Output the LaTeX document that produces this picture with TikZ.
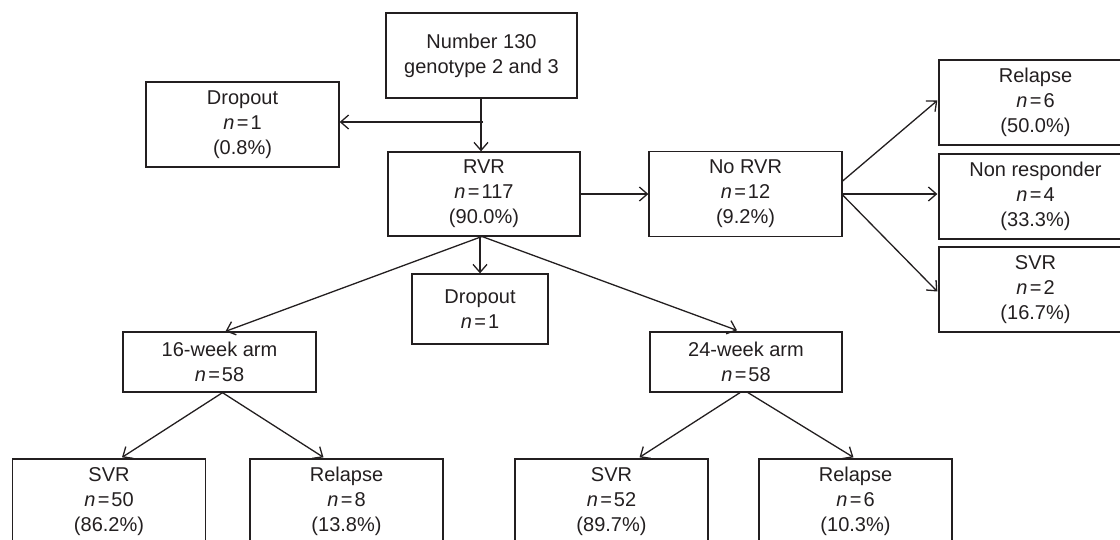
\documentclass[tikz,border=0pt]{standalone}
\usepackage{fontspec}
\setmainfont{Liberation Sans}
\usetikzlibrary{arrows.meta,calc}
\definecolor{ink}{HTML}{231F20}
\newcommand{\nn}[1]{\textit{n}\hspace{2.4pt}=\hspace{2pt}#1}
\begin{document}
\begin{tikzpicture}[x=1pt,y=-1pt,
  box/.style={draw=ink, line width=1.3pt, text=ink, inner sep=0pt, align=center,
    font=\fontsize{20}{25}\selectfont},
  bigbox/.style={box, minimum width=193pt, minimum height=85pt},
  arr/.style={draw=ink, line width=1.3pt, -{Straight Barb[length=8pt,width=14pt,line width=1.3pt]}}]
\useasboundingbox (0,0) rectangle (1120,539);
\clip (0,0) rectangle (1120,539);
% nodes
\node[box, minimum width=191pt, minimum height=85pt] (num) at (481.5,55.5) {Number 130\\genotype 2 and 3};
\node[bigbox] (drop1) at (242.5,124.5) {Dropout\\\nn{1}\\(0.8\%)};
\node[box, minimum width=192pt, minimum height=84pt] (rvr) at (484,194) {RVR\\\nn{117}\\(90.0\%)};
\node[bigbox] (norvr) at (745.5,194) {No RVR\\\nn{12}\\(9.2\%)};
\node[bigbox] (rel1) at (1035.5,102.5) {Relapse\\\nn{6}\\(50.0\%)};
\node[bigbox] (nonresp) at (1035.5,196.5) {Non responder\\\nn{4}\\(33.3\%)};
\node[bigbox] (svr1) at (1035.5,289.5) {SVR\\\nn{2}\\(16.7\%)};
\node[box, minimum width=136pt, minimum height=70pt] (drop2) at (480,309) {Dropout\\\nn{1}};
\node[box, minimum width=193pt, minimum height=60pt] (w16) at (219.5,362) {16-week arm\\\nn{58}};
\node[box, minimum width=192pt, minimum height=60pt] (w24) at (746,362) {24-week arm\\\nn{58}};
\node[bigbox] (svr16) at (109,501.5) {SVR\\\nn{50}\\(86.2\%)};
\node[bigbox] (rel16) at (346.5,501.5) {Relapse\\\nn{8}\\(13.8\%)};
\node[bigbox] (svr24) at (611.5,501.5) {SVR\\\nn{52}\\(89.7\%)};
\node[bigbox] (rel24) at (855.5,501.5) {Relapse\\\nn{6}\\(10.3\%)};
% helper coordinates
\coordinate (j) at (481,122);
\coordinate (apex) at (482,236.5);
% connectors
\draw[arr] (num.south -| j) -- (rvr.north -| j);
\draw[arr] ($(j)+(2,0)$) -- (drop1.east |- j);
\draw[arr] (rvr.east) -- (norvr.west);
\draw[arr] ($(norvr.east)+(0,-13)$) -- ($(rel1.west)+(-1,-2)$);
\draw[arr] (norvr.east) -- ($(norvr.east -| nonresp.west)+(-1,0)$);
\draw[arr] ($(norvr.east)+(0,1)$) -- ($(svr1.west)+(-1,2)$);
\draw[arr] (drop2.north |- apex) -- (drop2.north);
\draw[arr] (apex) -- ($(w16.north)+(6,0)$);
\draw[arr] (apex) -- ($(w24.north)+(-9,-1)$);
\draw[arr] ($(w16.south)+(3,0)$) -- ($(svr16.north)+(13,-1)$);
\draw[arr] ($(w16.south)+(3,0)$) -- ($(rel16.north)+(-23,-1)$);
\draw[arr] ($(w24.south)+(-6,0)$) -- ($(svr24.north)+(28,-1)$);
\draw[arr] ($(w24.south)+(2,0)$) -- ($(rel24.north)+(-2,-1)$);
\end{tikzpicture}
\end{document}
